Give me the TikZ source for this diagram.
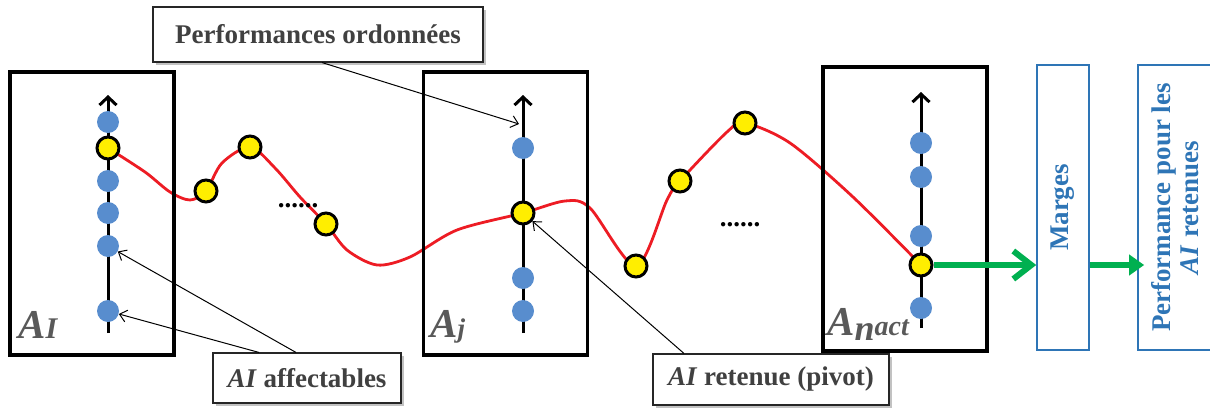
\documentclass[tikz,border=0pt]{standalone}
\usepackage{fontspec}
\setmainfont{Liberation Serif}
\usetikzlibrary{arrows.meta,positioning,calc,backgrounds,shadows}
\definecolor{dotblue}{RGB}{88,141,206}
\definecolor{pivyellow}{RGB}{255,238,0}
\definecolor{curvered}{RGB}{237,28,36}
\definecolor{flowgreen}{RGB}{0,176,80}
\definecolor{outblue}{RGB}{46,117,182}
\definecolor{labgray}{RGB}{64,64,64}
\definecolor{actgray}{RGB}{89,89,89}
\newcommand{\callfont}{\fontsize{27}{30}\selectfont\bfseries}

\begin{document}
\begin{tikzpicture}[x=1pt, y=-1pt,
  actbox/.style={draw, line width=3.5pt, minimum width=164pt, minimum height=283pt},
  axisline/.style={line width=3pt, -{Straight Barb[length=8pt, width=17pt]}},
  bluedot/.style={circle, fill=dotblue, minimum size=22pt, inner sep=0pt},
  ydot/.style={circle, draw, line width=3pt, fill=pivyellow, minimum size=22pt, inner sep=0pt},
  curve/.style={curvered, line width=2.8pt},
  actlabel/.style={font=\fontsize{41}{41}\selectfont\bfseries, text=actgray, inner sep=0pt, anchor=base west},
  callout/.style={draw=black!85, fill=white, line width=1.1pt, font=\callfont, text=labgray,
    inner sep=4pt, drop shadow={shadow xshift=2.5pt, shadow yshift=-2.5pt, fill=black!40, opacity=0.6}},
  pointer/.style={line width=1pt, -{Straight Barb[length=7pt, width=12pt]}},
  outbox/.style={draw=outblue, line width=1.6pt, font=\callfont, text=outblue, minimum height=285pt},
  flow/.style={flowgreen, line width=6pt},
  gap/.style={font=\callfont, inner sep=0pt}]
\useasboundingbox (0,0) rectangle (1210,407);

% the three sets of AI
\node[actbox] (boxI) at (92,213.5) {};
\node[actbox] (boxj) at (505.5,213.5) {};
\node[actbox, minimum height=284pt] (boxn) at (905,209) {};
\draw[axisline] (108,333) -- (108,95);
\draw[axisline] (523,333) -- (523,95);
\draw[axisline] (921,328) -- (921,92);

% ordered performances on each axis
\foreach \y [count=\i] in {122,181,213,246,311}
  \node[bluedot] (dI\i) at (108,\y) {};
\foreach \y [count=\i] in {148,278,311}
  \node[bluedot] (dj\i) at (523,\y) {};
\foreach \y [count=\i] in {143,177,236,308}
  \node[bluedot] (dn\i) at (921,\y) {};
\node[ydot] (yI) at (108,148) {};
\node[ydot] (yj) at (523,213) {};
\node[ydot] (yn) at (921,265) {};
\node[ydot] (c1) at (206,191) {};
\node[ydot] (c2) at (250,147) {};
\node[ydot] (c3) at (326,224) {};
\node[ydot] (c4) at (636,266) {};
\node[ydot] (c5) at (680,181) {};
\node[ydot] (c6) at (745,123) {};
\node[gap] (gapA) at (298,206) {......};
\node[gap] (gapB) at (740,225) {......};

% path of the pivots
\begin{scope}[on background layer]
\draw[curve] plot[smooth, tension=0.5] coordinates {(yI.center) (145,172)
  (170,192) (190,200) (c1.center) (222,163) (c2.center) (275,168)
  (300,197) (c3.center) (347,250) (377,265) (410,257) (457,230)
  (yj.center) (565,201) (590,208) (c4.center) (667,200) (c5.center)
  (727,132) (c6.center) (790,143) (853,197) (yn.center)};
\end{scope}

\node[actlabel] (labI) at (18,338) {\textit{A}{\fontsize{30}{30}\selectfont\textit{I}}};
\node[actlabel] (labj) at (430,337) {\textit{A}{\fontsize{27}{27}\selectfont\textit{j}}};
\node[actlabel] (labn) at (827,335) {\textit{A}\raisebox{-5pt}{\fontsize{36}{36}\selectfont\textit{n}}{\fontsize{28}{28}\selectfont\textit{act}}};

% callouts
\node[callout, minimum width=330pt, minimum height=55pt] (ordo) at (318,34.5) {Performances ordonnées};
\node[callout, minimum width=188pt, minimum height=50pt] (affect) at (307,378) {\textit{AI} affectables};
\node[callout, minimum width=236pt, minimum height=51pt] (pivot) at (771,379.5) {\textit{AI} retenue (pivot)};
\coordinate (jtip) at (519,124);
\draw[pointer] ($(ordo.south)+(4,0)$) -- (jtip);
\draw[pointer] ($(affect.north)+(-11,0)$) -- (dI4);
\draw[pointer] ($(affect.north)+(-48,0)$) -- (dI5);
\draw[pointer] ($(pivot.north)+(-87,0)$) -- (yj);

% outputs
\node[outbox, minimum width=52pt] (marges) at (1063,207.5) {\rotatebox{90}{Marges}};
\node[outbox, minimum width=80pt] (perf) at (1178,207.5)
  {\rotatebox{90}{\begin{tabular}{@{}c@{}}Performance pour les\\[-2pt]\textit{AI} retenues\end{tabular}}};
\draw[flow, -{Straight Barb[length=18pt, width=28pt]}] (yn) -- (marges.west |- yn);
\draw[flow, -{Triangle[length=15pt, width=20pt]}, shorten >=-7pt] (marges.east |- yn) -- (perf.west |- yn);
\end{tikzpicture}
\end{document}
